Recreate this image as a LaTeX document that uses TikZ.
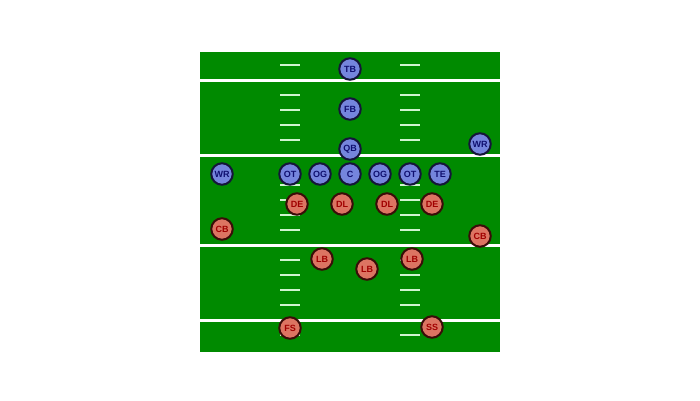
\documentclass[tikz,border=0pt]{standalone}
\usepackage{fontspec}
\setmainfont{Liberation Sans}
\definecolor{field}{HTML}{008A00}
\definecolor{hash}{HTML}{D0F5D0}
\definecolor{offfill}{HTML}{7585DD}
\definecolor{offtext}{HTML}{101070}
\definecolor{offline}{HTML}{15153A}
\definecolor{deffill}{HTML}{DC7462}
\definecolor{deftext}{HTML}{A00000}
\definecolor{defline}{HTML}{3A0C08}
\tikzset{
  x=1pt,y=-1pt,
  offense/.style={circle,draw=offline,line width=2pt,fill=offfill,minimum size=21.5pt,inner sep=0pt,text=offtext,font=\fontsize{9}{10}\selectfont\bfseries},
  defense/.style={circle,draw=defline,line width=2pt,fill=deffill,minimum size=21.5pt,inner sep=0pt,text=deftext,font=\fontsize{9}{10}\selectfont\bfseries},
  yardline/.style={draw=white,line width=3pt},
  hashmark/.style={draw=hash,line width=2.5pt}
}
\begin{document}
\begin{tikzpicture}
\useasboundingbox (0,0) rectangle (700,400);
\fill[field] (200,52) rectangle (500,352);
% hash marks
\foreach \y in {65,95,110,125,140,170,185,200,215,230,260,275,290,305,335}{
  \draw[hashmark] (280,\y) -- (300,\y);
  \draw[hashmark] (400,\y) -- (420,\y);
}
% yard lines
\foreach \y in {80,155,245,320}{
  \draw[yardline] (200,\y) -- (500,\y);
}
% offense
\node[offense] (tb) at (350,69) {TB};
\node[offense] (fb) at (350,109) {FB};
\node[offense] (qb) at (350,149) {QB};
\node[offense] (wrr) at (480,144) {WR};
\node[offense] (wrl) at (222,174) {WR};
\node[offense] (otl) at (290,174) {OT};
\node[offense] (ogl) at (320,174) {OG};
\node[offense] (c) at (350,174) {C};
\node[offense] (ogr) at (380,174) {OG};
\node[offense] (otr) at (410,174) {OT};
\node[offense] (te) at (440,174) {TE};
% defense
\node[defense] (del) at (297,204) {DE};
\node[defense] (dll) at (342,204) {DL};
\node[defense] (dlr) at (387,204) {DL};
\node[defense] (der) at (432,204) {DE};
\node[defense] (cbl) at (222,229) {CB};
\node[defense] (cbr) at (480,236) {CB};
\node[defense] (lbl) at (322,259) {LB};
\node[defense] (lbm) at (367,269) {LB};
\node[defense] (lbr) at (412,259) {LB};
\node[defense] (fs) at (290,328) {FS};
\node[defense] (ss) at (432,327) {SS};
\end{tikzpicture}
\end{document}
